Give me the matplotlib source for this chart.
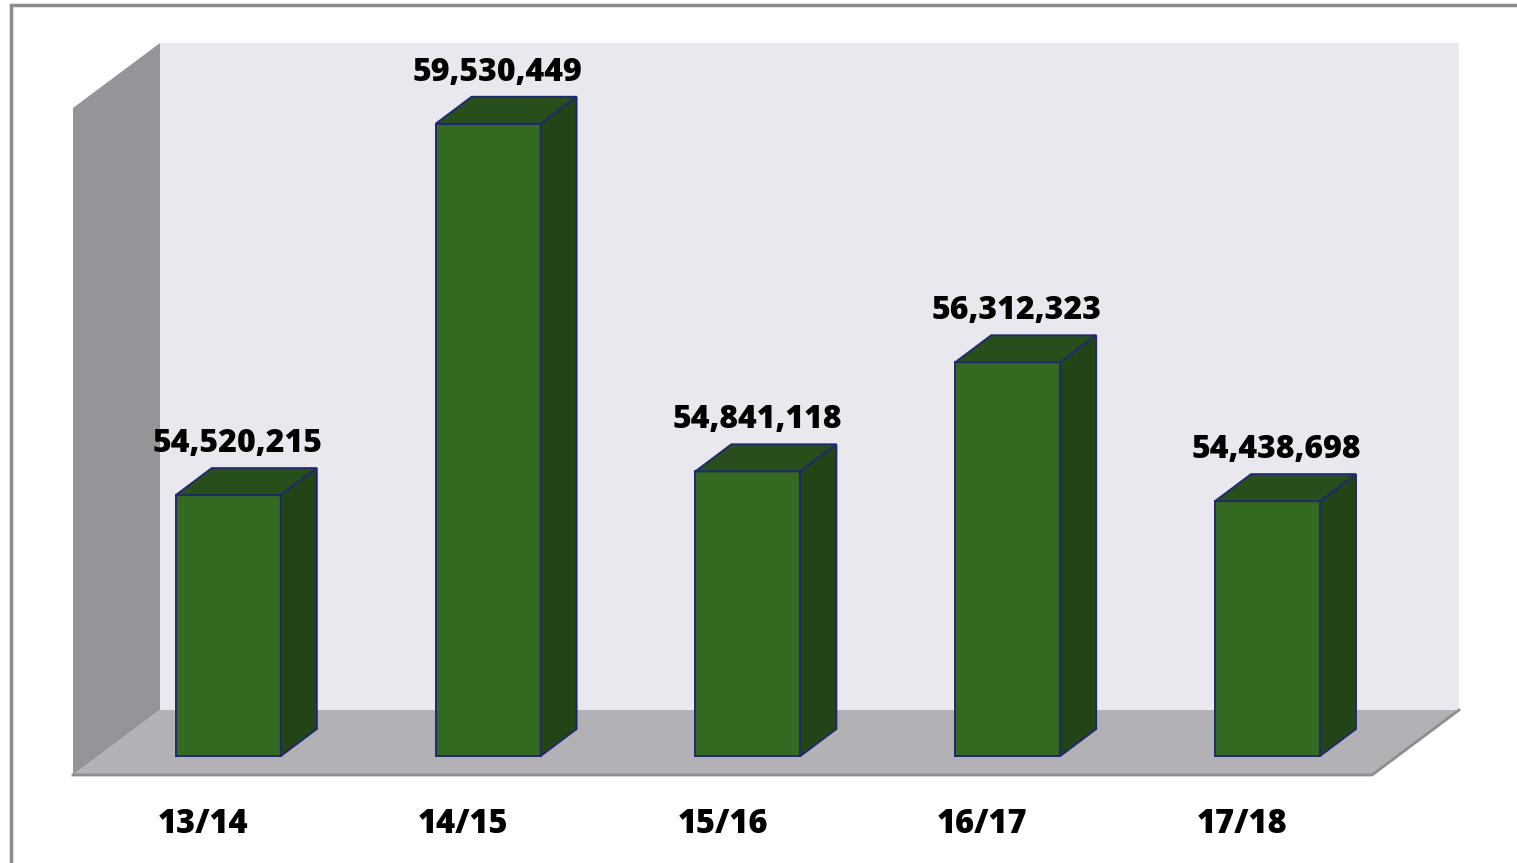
import matplotlib
matplotlib.use("Agg")
import matplotlib.pyplot as plt
from matplotlib.patches import Polygon, Rectangle

years = ['13/14', '14/15', '15/16', '16/17', '17/18']
totals = [54520215, 59530449, 54841118, 56312323, 54438698]

W, H = 1517, 863
fig = plt.figure(figsize=(W / 100, H / 100), dpi=100)
plt.rcParams['font.family'] = ['Open Sans', 'DejaVu Sans']

# front plane of the 3d box, in pixels of the picture
left, top, right, bottom = 73, 108, 1372, 775
ax = fig.add_axes([left / W, 1 - bottom / H, (right - left) / W, (bottom - top) / H])
ymin, ymax = 51e6, 60e6
ax.set_xlim(-0.5, 4.5)
ax.set_ylim(ymin, ymax)
ax.axis('off')

ux = (right - left) / 5.0          # px per category
uy = (bottom - top) / (ymax - ymin)  # px per unit


def off(px, py):
    # pixel offset (right, up) -> data offset
    return px / ux, py / uy


Dx, Dy = off(87, 65)      # full depth of the box
fx, fy = off(25.4, 19)    # where the bar front sits
bx, by = off(36, 27)      # bar depth
bw = 105 / ux

x0, x1 = -0.5, 4.5
walls = dict(clip_on=False, lw=0)
ax.add_patch(Polygon([(x0 + Dx, ymin + Dy), (x1 + Dx, ymin + Dy),
                      (x1 + Dx, ymax + Dy), (x0 + Dx, ymax + Dy)],
                     fc='#E9E8EF', zorder=0, **walls))
ax.add_patch(Polygon([(x0, ymin), (x0, ymax), (x0 + Dx, ymax + Dy), (x0 + Dx, ymin + Dy)],
                     fc='#959499', zorder=1, **walls))
ax.add_patch(Polygon([(x0, ymin), (x1, ymin), (x1 + Dx, ymin + Dy), (x0 + Dx, ymin + Dy)],
                     fc='#B2B1B5', zorder=1, **walls))
ax.plot([x0, x1, x1 + Dx], [ymin, ymin, ymin + Dy], color='#8E8E8E', lw=2,
        clip_on=False, zorder=2, solid_joinstyle='miter')

edge = dict(ec='#1F2A6E', lw=1.4, clip_on=False, zorder=3, joinstyle='miter')
for i, v in enumerate(totals):
    l = i - bw / 2 + fx
    r = l + bw
    b = ymin + fy
    t = v + fy
    ax.add_patch(Polygon([(l, b), (r, b), (r, t), (l, t)], fc='#336920', **edge))
    ax.add_patch(Polygon([(l, t), (r, t), (r + bx, t + by), (l + bx, t + by)],
                         fc='#284F1B', **edge))
    ax.add_patch(Polygon([(r, b), (r, t), (r + bx, t + by), (r + bx, b + by)],
                         fc='#224416', **edge))
    lx, ly = off(9, 16)
    ax.text(i + fx + lx, t + by + ly, f'{v:,}', ha='center', va='baseline',
            fontsize=23, fontweight=800, color='black', clip_on=False, zorder=5)

for i, y in enumerate(years):
    ax.text(i, ymin - 49 / uy, y, ha='center', va='center', fontsize=23.5,
            fontweight=800, color='black', clip_on=False)

fig.patches.append(Rectangle((11 / W, -0.1), 1.2, 1 - 5 / H + 0.1, transform=fig.transFigure,
                             fill=False, ec='#8C8C8C', lw=2.5))

fig.savefig('out.png', dpi=100, facecolor='white')
